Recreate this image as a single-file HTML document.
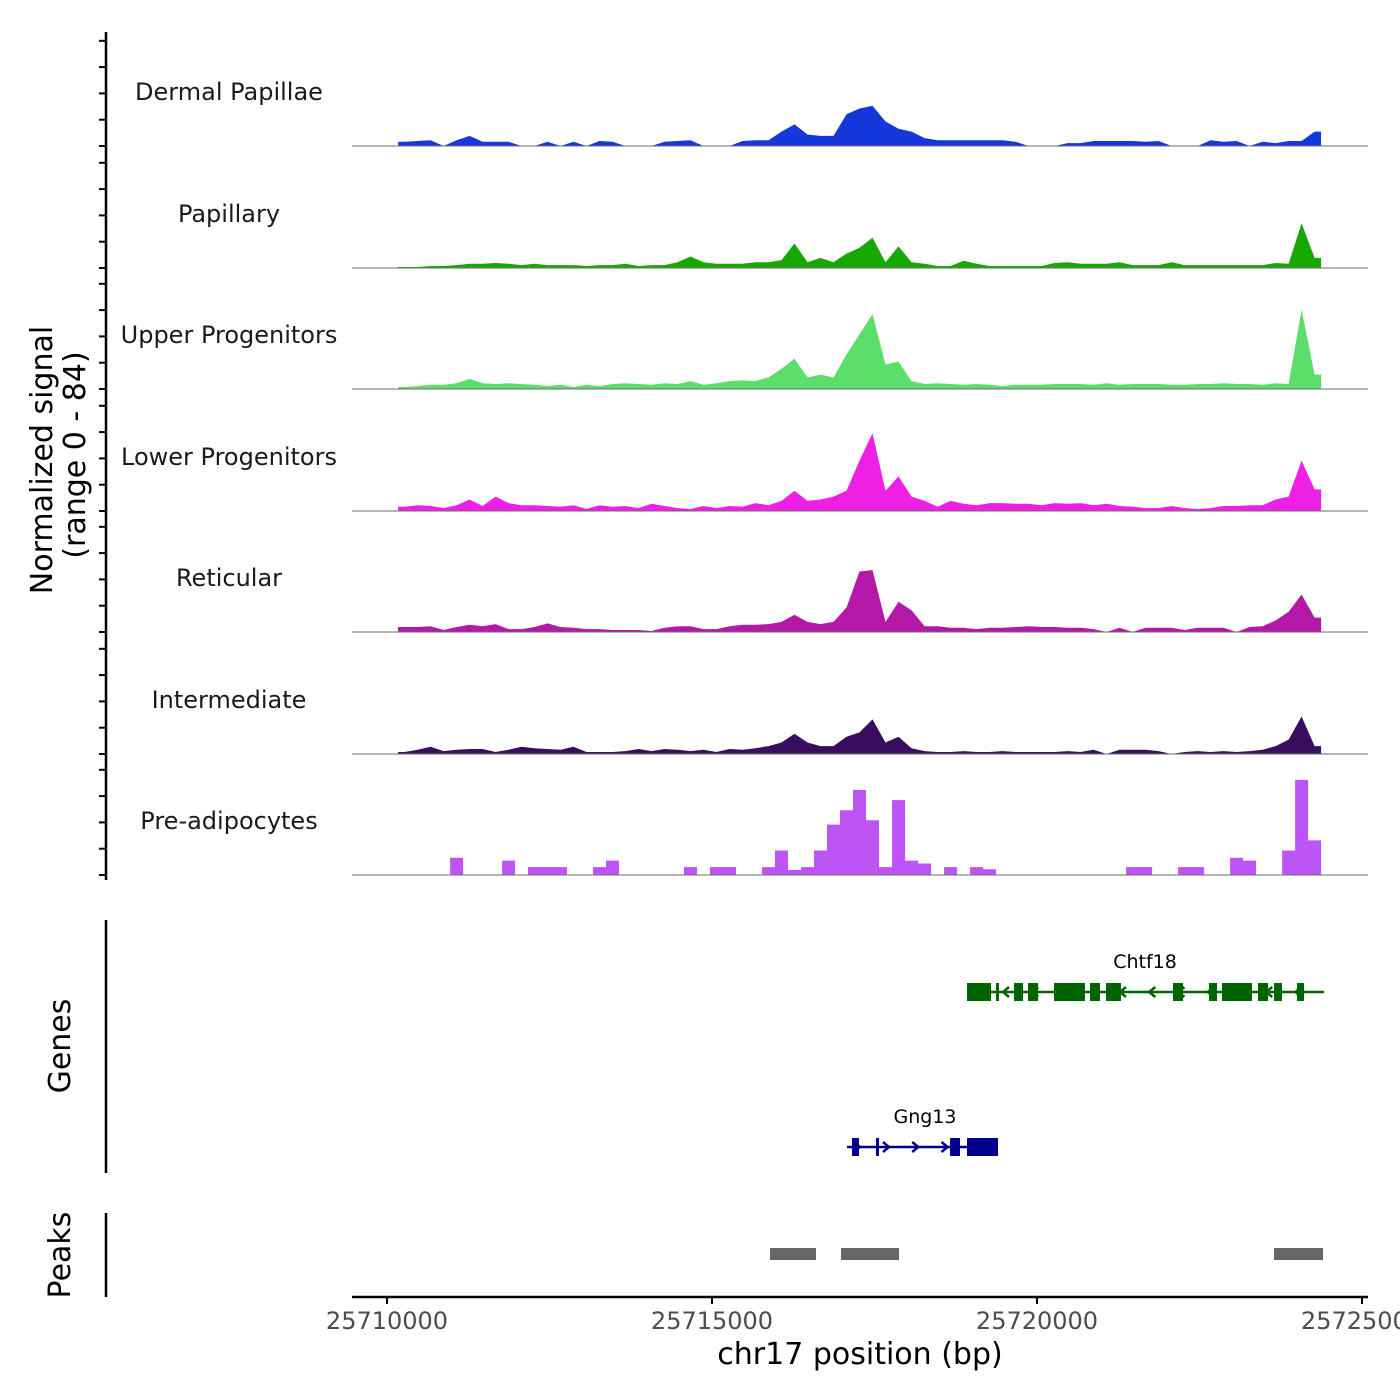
<!DOCTYPE html>
<html><head><meta charset="utf-8">
<style>
html,body{margin:0;padding:0;background:#fff;}
svg{display:block;font-family:"DejaVu Sans","Liberation Sans",sans-serif;}
</style></head>
<body>
<svg id="chart" width="1400" height="1400" viewBox="0 0 1400 1400" xmlns="http://www.w3.org/2000/svg">
  <rect width="1400" height="1400" fill="#fff"/>
  <g id="tracks"></g>
  <g id="leftaxis">
    <line x1="106" y1="32" x2="106" y2="880" stroke="#000" stroke-width="2.5"/>
  </g>
  <text transform="translate(52,460) rotate(-90)" text-anchor="middle" font-size="30" fill="#000">Normalized signal</text>
  <text transform="translate(85,455) rotate(-90)" text-anchor="middle" font-size="30" fill="#000">(range 0 - 84)</text>

  <line x1="106" y1="920" x2="106" y2="1173" stroke="#000" stroke-width="2.5"/>
  <text transform="translate(70,1046) rotate(-90)" text-anchor="middle" font-size="30" fill="#000">Genes</text>
  <g id="genes"></g>

  <line x1="106" y1="1213" x2="106" y2="1297" stroke="#000" stroke-width="2.5"/>
  <text transform="translate(70,1255) rotate(-90)" text-anchor="middle" font-size="30" fill="#000">Peaks</text>
  <g id="peaks"></g>

  <g id="xaxis">
    <line x1="352" y1="1297" x2="1368" y2="1297" stroke="#000" stroke-width="2.5"/>
  </g>
  <text x="860" y="1364" text-anchor="middle" font-size="30" fill="#000">chr17 position (bp)</text>
</svg>
<script>
const NS="http://www.w3.org/2000/svg";
const binStart=25710170, binSize=200;
const trackNames=["Dermal Papillae","Papillary","Upper Progenitors","Lower Progenitors","Reticular","Intermediate","Pre-adipocytes"];
const trackColors=["#1538dc","#17a800","#5cdf6a","#ef1fe6","#b418a6","#390d5e","#bd55f6"];
const sigDermal=[3,3.5,4,0,4,7,3,3,3,0,0,3,0,3,0,3.5,3,0,0,0,3,3.5,4,0,0,0,3.5,4,4,10,15,8,7,7,22,26,28,17,12,10,5.5,4,4,4,4,4,4,3,0,0,0,2,2,3.5,3.5,3.5,3.5,3,3.5,0,0,0,4,3,3.5,0,3,2,3.5,3.5,10];
const sigPapillary=[0.7,0.7,1.4,1.4,2,3,3,3.5,3,2,3,2,2,2,1.4,2,2,3,1.4,2,2,4,8,4,3,3,3,4,4,5.5,17,4,7,4,10,14,21,4,15,4,3,1.4,1.4,5,3,1.4,1.4,1.4,1.4,1.4,3.5,4,3,3,3,4,2,2,2,4,2,2,2,2,2,2,2,3.5,3,31,7];
const sigUpper=[1.4,2,3,3,4,7,4,3.5,4,3.5,3,2,3,1.4,3,2,3.5,4,3.5,3,4,3.5,5.5,3,4,5.5,6,5.5,8,14,21,8,10,8,24,38,52,17,19,5.5,3.5,4,3.5,3,3.5,3,2,3,3,3,3.5,3.5,3.5,3,4,3,3.5,3.5,3.5,3,3,3.5,3.5,4,3.5,3.5,3,4,3.5,55,10];
const sigLower=[3,4,3.5,2,4,8,3.5,10,5.5,4,4,3.5,3,4,1.4,4,3,3.5,2,5,3.5,2,1.4,3.5,2,3.5,3,5.5,4,7,14,7,8,10,14,35,54,14,24,10,7,3,7,5,4,5.5,5.5,5,5,4,5.5,5,5.5,4,5,3.5,3,2,2,3.5,2,1.4,2,3.5,3.5,4,4,8,10,35,15];
const sigReticular=[3.5,3.5,4,1.4,3.5,5,4,5.5,2,2,3.5,6,3.5,3,2,2,1.4,1.4,1.4,0.7,3,4,4,2,2,4,5,5,5.5,7,12,7,5.5,7,17,42,43,7,21,15,4,4,3,3,2,3,3,3.5,4,3.5,3.5,3,3,2,0,3,0,3,3,3,1.4,3,3,3,0,3.5,4,8,14,26,10];
const sigIntermediate=[1.4,3,5,2,3,3.5,3.5,1.4,3,5,4,3.5,3,5,1.4,1.4,1.4,2,3.5,2,3.5,3,2,3,1.4,3.5,3,4,5.5,8,14,8,5.5,5.5,12,15,24,8,12,4,2,1.4,1.4,2,1.4,1.4,2,1.4,1.4,1.4,1.4,2,1.4,3,0,3,3,3,2,0,1.4,2,1.4,2,1.4,2,3,5.5,10,26,5.5];
const sigPreadipo=[0,0,0,0,12,0,0,0,10,0,5.5,5.5,5.5,0,0,5.5,10,0,0,0,0,0,5.5,0,5.5,5.5,0,0,5.5,17,3.5,5.5,17,35,45,59,38,5.5,52,10,8,0,5.5,0,5.5,4,0,0,0,0,0,0,0,0,0,0,5.5,5.5,0,0,5.5,5.5,0,0,12,10,0,0,17,66,24];
const xTicks=[25710000,25715000,25720000,25725000];
const xTickLabels=["25710000","25715000","25720000","25725000"];
const geneNames=["Chtf18","Gng13"];
const geneStrands=[-1,1];
const geneSpans=[[25718923,25724415],[25717077,25719400]];
const chtf18Exons=[[25718923,25719292],[25719369,25719415],[25719646,25719785],[25719862,25720015],[25720262,25720738],[25720815,25720969],[25721062,25721292],[25722092,25722246],[25722646,25722769],[25722846,25723308],[25723400,25723554],[25723646,25723769],[25724000,25724108]];
const gng13Exons=[[25717154,25717262],[25717523,25717569],[25718662,25718815],[25718923,25719400]];
const peakStarts=[25715892,25716985,25723646];
const peakEnds=[25716600,25717877,25724400];

const signals=[sigDermal,sigPapillary,sigUpper,sigLower,sigReticular,sigIntermediate,sigPreadipo];
const X=bp=>387+(bp-25710000)*0.065;
const yMax=84, trackH=121;
const baselines=[146,268,389,511,632,754,875];
const Y=(v,t)=>baselines[t]-v/yMax*trackH;

function mk(tag,attrs,parent){const e=document.createElementNS(NS,tag);for(const k in attrs)e.setAttribute(k,attrs[k]);parent.appendChild(e);return e;}

const tracks=document.getElementById('tracks');
signals.forEach((sig,t)=>{
  const g=mk('g',{},tracks);
  
  
  let d='M'+X(binStart).toFixed(1)+','+baselines[t];
  const step=(t===6);
  sig.forEach((v,i)=>{
    const x0=X(binStart+i*binSize), x1=X(binStart+(i+1)*binSize), xc=(x0+x1)/2;
    if(step){d+=' L'+x0.toFixed(1)+','+Y(v,t).toFixed(1)+' L'+x1.toFixed(1)+','+Y(v,t).toFixed(1);}
    else{ if(i===0) d+=' L'+x0.toFixed(1)+','+Y(v,t).toFixed(1); d+=' L'+xc.toFixed(1)+','+Y(v,t).toFixed(1); if(i===sig.length-1) d+=' L'+x1.toFixed(1)+','+Y(v,t).toFixed(1);}
  });
  d+=' L'+X(binStart+sig.length*binSize).toFixed(1)+','+baselines[t]+' Z';
  const p=mk('path',{d:d,fill:trackColors[t]},g);
  
  
  const bl=mk('line',{x1:352,x2:1368,y1:baselines[t],y2:baselines[t],stroke:'#6e6e6e','stroke-width':1},g);
  
  
  const lb=mk('text',{x:229,y:baselines[t]-46,'text-anchor':'middle','font-size':24,fill:'#1a1a1a'},g);
  lb.textContent=trackNames[t];
  
  
  for(let k=0;k<5;k++){
    const ty=baselines[t]-k*26.3;
    const tk=mk('line',{x1:99,x2:106,y1:ty,y2:ty,stroke:'#000','stroke-width':2},document.getElementById('leftaxis'));
    
    
  }
});

const genesG=document.getElementById('genes');
const geneY=[992,1147], geneCol=['#006400','#00008b'];
[chtf18Exons,gng13Exons].forEach((ex,gi)=>{
  const g=mk('g',{},genesG);
  
  
  const y=geneY[gi], c=geneCol[gi];
  mk('line',{x1:X(geneSpans[gi][0]),x2:X(geneSpans[gi][1]),y1:y,y2:y,stroke:c,'stroke-width':2.5},g);
  const s=geneStrands[gi];
  for(let bp=geneSpans[gi][0]+150;bp<geneSpans[gi][1];bp+=450){
    const x=X(bp);
    mk('polyline',{points:(x-3*s)+','+(y-5)+' '+(x+3*s)+','+y+' '+(x-3*s)+','+(y+5),fill:'none',stroke:c,'stroke-width':2.5},g);
  }
  ex.forEach(e=>{
    const r=mk('rect',{x:X(e[0]),y:y-9,width:Math.max(2.5,X(e[1])-X(e[0])),height:18,fill:c},g);
    
    
  });
  const lb=mk('text',{x:(gi===0?1145:925),y:y-24,'text-anchor':'middle','font-size':19,fill:'#000'},g);
  lb.textContent=geneNames[gi];
  
  
});

const peaksG=document.getElementById('peaks');
peakStarts.forEach((s,i)=>{
  const r=mk('rect',{x:X(s),y:1248,width:X(peakEnds[i])-X(s),height:12,fill:'#666'},peaksG);
  
  
});

const xa=document.getElementById('xaxis');
xTicks.forEach((v,i)=>{
  const x=X(v);
  const tk=mk('line',{x1:x,x2:x,y1:1297,y2:1304,stroke:'#000','stroke-width':2},xa);
  
  
  const lb=mk('text',{x:x,y:1329,'text-anchor':'middle','font-size':24,fill:'#4d4d4d'},xa);
  lb.textContent=xTickLabels[i];
  
  
});
</script>
</body></html>
